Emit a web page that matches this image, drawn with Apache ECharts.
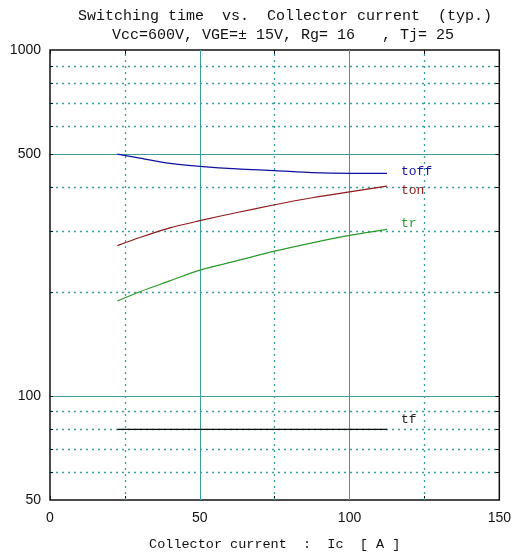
<!DOCTYPE html>
<html><head><meta charset="utf-8">
<script src="https://cdn.jsdelivr.net/npm/echarts@6/dist/echarts.min.js"></script>
<style>html,body{margin:0;padding:0;background:#fff}#c{width:514px;height:556px}</style>
</head><body><div id="c"></div>
<script>
const ic = [22.5, 30, 40, 50, 62.5, 75, 87.5, 100, 112.5];
const toff = [500, 487, 470, 461, 453, 448, 442, 440, 440];
const ton = [272, 287, 306, 321, 339, 357, 374, 389, 404];
const tr = [188, 200, 215, 231, 246, 262, 277, 291, 303];
const tf = [80, 80, 80, 80, 80, 80, 80, 80, 80];
const yLabels = [50, 100, 500, 1000];
const yMajor = [100, 500];
const yMinor = [60, 70, 80, 90, 200, 300, 400, 600, 700, 800, 900];
const xMajor = [50, 100];
const xMinor = [25, 75, 125];
const xLabels = [0, 50, 100, 150];

const teal = '#3a9e9e';
const pair = (a, b) => a.map((v, i) => [v, b[i]]);
const chart = echarts.init(document.getElementById('c'));
const labelFont = {fontFamily: 'Liberation Sans', fontSize: 14, color: '#111'};
const gridLines = [];
yMajor.forEach(v => gridLines.push({yAxis: v, lineStyle: {color: teal, type: 'solid', width: 1}}));
yMinor.forEach(v => gridLines.push({yAxis: v, lineStyle: {color: teal, type: [2, 4], width: 1.3}}));
xMajor.forEach(v => gridLines.push({xAxis: v, lineStyle: {color: teal, type: 'solid', width: 1}}));
xMinor.forEach(v => gridLines.push({xAxis: v, lineStyle: {color: teal, type: [2, 4], width: 1.3}}));
const tickSegs = [];
yMajor.concat(yMinor).forEach(v => {
  tickSegs.push([{coord: [0, v]}, {coord: [1, v]}]);
  tickSegs.push([{coord: [148.7, v]}, {coord: [150, v]}]);
});

function lineSeries(name, data, color, lblColor) {
  return {
    type: 'line', name, data: pair(ic, data), showSymbol: false, smooth: 0.3,
    lineStyle: {color, width: 1.2}, z: 5,
    endLabel: {show: true, formatter: name, color: lblColor || color, fontFamily: 'Liberation Mono', fontSize: 13, distance: 14},
    silent: true
  };
}
const ttf = lineSeries('tf', tf, '#111', '#222');
ttf.smooth = false;
ttf.endLabel.offset = [0, -10];
const ttoff = lineSeries('toff', toff, '#1010a0');
ttoff.endLabel.offset = [0, -2];
const tton = lineSeries('ton', ton, '#8c1c1c');
tton.endLabel.offset = [0, 4];
const ttr = lineSeries('tr', tr, '#2a9a2a');
ttr.endLabel.offset = [0, -6];

const titleStyle = {fontFamily: 'Liberation Mono', fontWeight: 'normal', fontSize: 15, color: '#111'};
chart.setOption({
  animation: false,
  title: [
    {text: 'Switching time  vs.  Collector current  (typ.)', left: 280, top: 4, textAlign: 'center', textStyle: titleStyle},
    {text: 'Vcc=600V, VGE=\u00b1 15V, Rg= 16   , Tj= 25', left: 278, top: 23, textAlign: 'center', textStyle: titleStyle}
  ],
  grid: {left: 50, right: 14, top: 50, bottom: 55, show: true, borderColor: '#111', borderWidth: 1.5, backgroundColor: 'transparent'},
  xAxis: [
    {type: 'value', min: 0, max: 150, interval: 25, position: 'bottom',
     name: 'Collector current  :  Ic  [ A ]', nameLocation: 'middle', nameGap: 37,
     nameTextStyle: {fontFamily: 'Liberation Mono', fontSize: 13.5, color: '#111'},
     axisLine: {show: false}, splitLine: {show: false},
     axisTick: {show: true, inside: true, length: 4, lineStyle: {color: '#111'}},
     axisLabel: {...labelFont, margin: 11, formatter: v => xLabels.includes(v) ? String(v) : ''}},
    {type: 'value', min: 0, max: 150, interval: 25, position: 'top',
     axisLine: {show: false}, splitLine: {show: false}, axisLabel: {show: false},
     axisTick: {show: true, inside: true, length: 4, lineStyle: {color: '#111'}}}
  ],
  yAxis: [
    {type: 'log', logBase: 10, min: 50, max: 1000, position: 'left',
     axisLine: {show: false}, splitLine: {show: false},
     axisTick: {show: false},
     axisLabel: {...labelFont, margin: 9, customValues: yLabels, formatter: v => String(Math.round(v))}}
  ],
  series: [
    {type: 'line', data: [], silent: true,
     markLine: {silent: true, symbol: 'none', label: {show: false}, data: gridLines.concat(
       tickSegs.map(s => [Object.assign({lineStyle: {color: '#111', type: 'solid', width: 1}}, s[0]), s[1]])
     ), z: 1}},
    ttoff, tton, ttr, ttf
  ]
});
</script></body></html>
